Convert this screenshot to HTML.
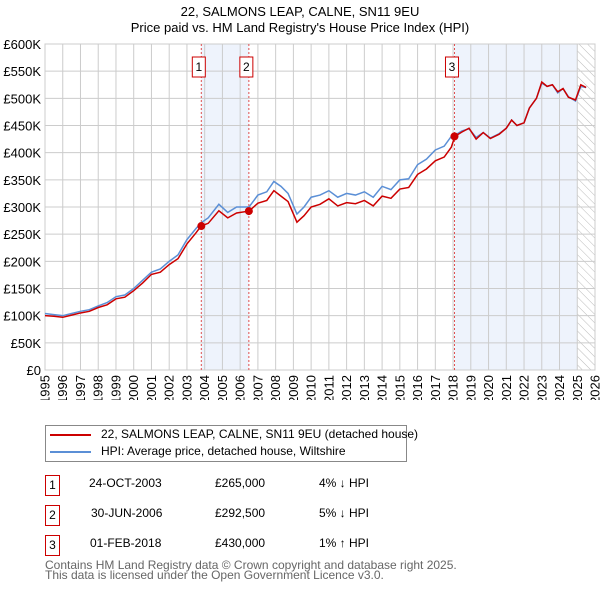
<!DOCTYPE html>
<html><head><meta charset="utf-8"><style>
body{margin:0;background:#fff;font-family:"Liberation Sans","DejaVu Sans",sans-serif;}
#wrap{position:relative;width:600px;height:590px;overflow:hidden}
.t{position:absolute;font-size:13px;color:#000;white-space:nowrap}
.box{position:absolute;width:13px;height:19px;border:1px solid #c00;font-size:12px;text-align:center;line-height:19px}
</style></head><body>
<div id="wrap">
<div class="t" style="left:0;width:600px;text-align:center;top:4px">22, SALMONS LEAP, CALNE, SN11 9EU</div>
<div class="t" style="left:0;width:600px;text-align:center;top:20px">Price paid vs. HM Land Registry's House Price Index (HPI)</div>
<svg id="chart" width="600" height="400" style="position:absolute;left:0;top:0"></svg>
<div style="position:absolute;left:45px;top:425px;width:360px;height:35px;border:1px solid #888">
 <div style="position:absolute;left:4px;top:8px;width:41px;height:2px;background:#c00"></div>
 <div class="t" style="left:55px;top:1px;font-size:12px">22, SALMONS LEAP, CALNE, SN11 9EU (detached house)</div>
 <div style="position:absolute;left:4px;top:25px;width:41px;height:2px;background:#5b8fd6"></div>
 <div class="t" style="left:55px;top:18px;font-size:12px">HPI: Average price, detached house, Wiltshire</div>
</div>
<div>
 <div class="box" style="left:45px;top:475px">1</div>
 <div class="t" style="left:89px;top:476px;font-size:12px">24-OCT-2003</div>
 <div class="t" style="left:215px;top:476px;font-size:12px">£265,000</div>
 <div class="t" style="left:319px;top:476px;font-size:12px">4% ↓ HPI</div>
 <div class="box" style="left:45px;top:505px">2</div>
 <div class="t" style="left:91px;top:506px;font-size:12px">30-JUN-2006</div>
 <div class="t" style="left:215px;top:506px;font-size:12px">£292,500</div>
 <div class="t" style="left:319px;top:506px;font-size:12px">5% ↓ HPI</div>
 <div class="box" style="left:45px;top:535px">3</div>
 <div class="t" style="left:90px;top:536px;font-size:12px">01-FEB-2018</div>
 <div class="t" style="left:215px;top:536px;font-size:12px">£430,000</div>
 <div class="t" style="left:319px;top:536px;font-size:12px">1% ↑ HPI</div>
</div>
<div class="t" style="left:45px;top:560px;font-size:12px;color:#666;line-height:10px">Contains HM Land Registry data © Crown copyright and database right 2025.<br>This data is licensed under the Open Government Licence v3.0.</div>
</div>
<script>
const dates=[1995,1995.5,1996,1996.5,1997,1997.5,1998,1998.5,1999,1999.5,2000,2000.5,2001,2001.5,2002,2002.5,2003,2003.5,2003.8,2004.2,2004.8,2005.3,2005.8,2006.5,2007,2007.5,2007.9,2008.3,2008.7,2009.2,2009.6,2010,2010.5,2011,2011.5,2012,2012.5,2013,2013.5,2014,2014.5,2015,2015.5,2016,2016.5,2017,2017.5,2017.9,2018.1,2018.5,2018.9,2019.3,2019.7,2020.1,2020.6,2021,2021.3,2021.6,2022,2022.3,2022.7,2023,2023.3,2023.6,2023.9,2024.2,2024.5,2024.9,2025.2,2025.5];
const hpi=[104,102,100,104,108,111,118,124,135,138,150,165,180,186,200,212,240,260,271,280,305,290,300,300,322,328,347,338,325,287,300,318,322,330,318,325,322,328,318,338,332,350,352,378,388,405,412,430,432,440,444,428,437,427,435,445,460,450,455,482,500,528,522,525,510,518,503,495,522,520];
const price=[100,99,97,101,105,108,115,120,131,134,146,160,176,180,194,205,232,252,265,270,293,280,289,292.5,307,312,330,320,310,272,284,300,305,315,302,308,306,312,302,320,316,333,336,360,370,385,392,410,430,438,445,425,437,426,434,445,460,450,455,482,500,530,522,525,512,518,502,497,525,520];
const saleDates=[2003.81,2006.49,2018.08];
const salePrices=[265,292.5,430];
const saleLabels=["1","2","3"];
const yTicks=[0,50,100,150,200,250,300,350,400,450,500,550,600];
const xYears=[1995,1996,1997,1998,1999,2000,2001,2002,2003,2004,2005,2006,2007,2008,2009,2010,2011,2012,2013,2014,2015,2016,2017,2018,2019,2020,2021,2022,2023,2024,2025,2026];
const X0=45,X1=595,Y0=370,Y1=44;
const x=v=>X0+(v-1995)/31*(X1-X0);
const y=v=>Y0-v/600*(Y0-Y1);
const svg=document.getElementById('chart');
const NS="http://www.w3.org/2000/svg";
function mk(t,a){const e=document.createElementNS(NS,t);for(const k in a)e.setAttribute(k,a[k]);svg.appendChild(e);return e;}
let defs=mk('defs',{});
defs.innerHTML='<pattern id="hatch" width="6" height="6" patternUnits="userSpaceOnUse" patternTransform="rotate(-45)"><line x1="0" y1="0" x2="0" y2="6" stroke="#bbb" stroke-width="1"/></pattern>';
let e;
e=mk('rect',{x:x(saleDates[0]),y:Y1,width:x(saleDates[1])-x(saleDates[0]),height:Y0-Y1,fill:'#eef3fc'});

e=mk('rect',{x:x(saleDates[2]),y:Y1,width:x(2025)-x(saleDates[2]),height:Y0-Y1,fill:'#eef3fc'});

e=mk('rect',{x:x(2025),y:Y1,width:X1-x(2025),height:Y0-Y1,fill:'url(#hatch)'});

yTicks.forEach(v=>{
 e=mk('line',{x1:X0,x2:X1,y1:y(v),y2:y(v),stroke:'#ccc','stroke-width':1});
 
 e=mk('text',{x:X0-4,y:y(v)+5,'text-anchor':'end','font-size':13,'font-family':'Liberation Sans, sans-serif'});
 e.textContent=v===0?'£0':'£'+v+'K';
 
});
xYears.forEach(v=>{
 e=mk('line',{x1:x(v),x2:x(v),y1:Y1,y2:Y0,stroke:'#ccc','stroke-width':1});
 
 e=mk('text',{x:x(v),y:Y0+5,'font-size':13,'font-family':'Liberation Sans, sans-serif','text-anchor':'end','dominant-baseline':'central',transform:`rotate(-90 ${x(v)} ${Y0+5})`});
 e.textContent=v;
 
});
e=mk('rect',{x:X0,y:Y1,width:X1-X0,height:Y0-Y1,fill:'none',stroke:'#ccc'});

saleDates.forEach((d,i)=>{
 e=mk('line',{x1:x(d),x2:x(d),y1:Y1,y2:Y0,stroke:'#e05050','stroke-dasharray':'2,2','stroke-width':1});
 
 e=mk('rect',{x:x(d)-9,y:57,width:13,height:20,fill:'#fff',stroke:'#c00'});
 
 e=mk('text',{x:x(d)-2.5,y:71,'text-anchor':'middle','font-size':12,'font-family':'Liberation Sans, sans-serif'});
 e.textContent=saleLabels[i];
 
});
e=mk('polyline',{points:dates.map((d,i)=>x(d)+','+y(hpi[i])).join(' '),fill:'none',stroke:'#5b8fd6','stroke-width':1.5});

e=mk('polyline',{points:dates.map((d,i)=>x(d)+','+y(price[i])).join(' '),fill:'none',stroke:'#c00','stroke-width':1.5});

saleDates.forEach((d,i)=>{
 e=mk('circle',{cx:x(d),cy:y(salePrices[i]),r:4,fill:'#c00'});
 
});
</script>
</body></html>
